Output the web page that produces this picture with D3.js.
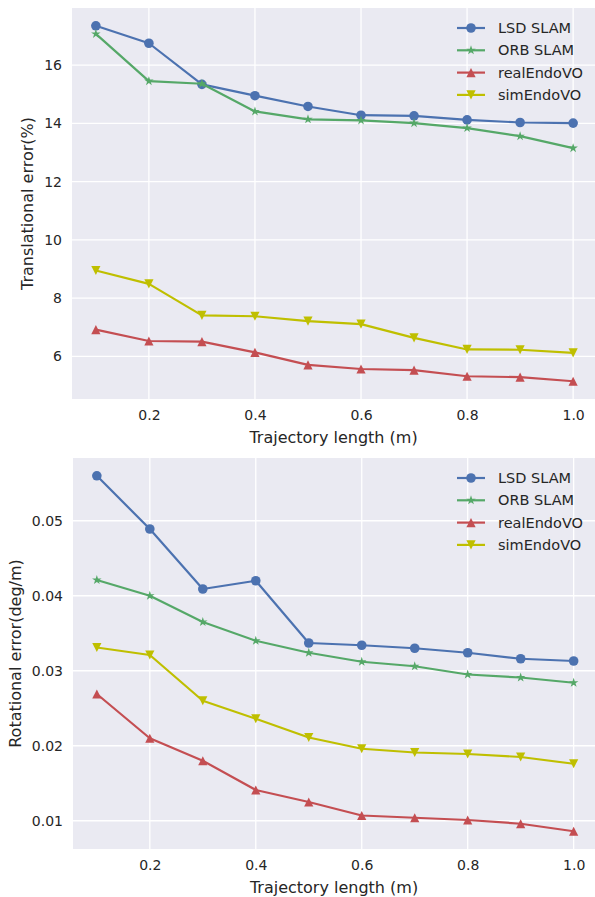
<!DOCTYPE html>
<html>
<head>
<meta charset="utf-8">
<script src="https://cdn.jsdelivr.net/npm/d3@7"></script>
<style>
  html, body { margin: 0; padding: 0; background: #ffffff; }
  svg { display: block; }
  text { font-family: "DejaVu Sans", sans-serif; fill: #262626; }
</style>
</head>
<body>
<svg id="chart" width="595" height="897"></svg>
<script>
// ---- data ----
const trajectoryLength = [0.1, 0.2, 0.3, 0.4, 0.5, 0.6, 0.7, 0.8, 0.9, 1.0];
const seriesNames = ["LSD SLAM", "ORB SLAM", "realEndoVO", "simEndoVO"];

const transLSD  = [17.35, 16.75, 15.34, 14.95, 14.58, 14.28, 14.26, 14.12, 14.03, 14.01];
const transORB  = [17.07, 15.45, 15.36, 14.41, 14.14, 14.10, 14.01, 13.84, 13.56, 13.15];
const transReal = [6.92, 6.53, 6.51, 6.14, 5.71, 5.57, 5.53, 5.32, 5.29, 5.15];
const transSim  = [8.95, 8.49, 7.41, 7.38, 7.21, 7.11, 6.64, 6.24, 6.23, 6.12];

const rotLSD  = [0.0560, 0.0489, 0.0409, 0.0420, 0.0337, 0.0334, 0.0330, 0.0324, 0.0316, 0.0313];
const rotORB  = [0.0421, 0.0400, 0.0365, 0.0340, 0.0324, 0.0312, 0.0306, 0.0295, 0.0291, 0.0284];
const rotReal = [0.0269, 0.0210, 0.0180, 0.0141, 0.0125, 0.0107, 0.0104, 0.0101, 0.0096, 0.0086];
const rotSim  = [0.0331, 0.0321, 0.0260, 0.0236, 0.0211, 0.0196, 0.0191, 0.0189, 0.0185, 0.0176];

const xTicks = [0.2, 0.4, 0.6, 0.8, 1.0];
const transTicks = [6, 8, 10, 12, 14, 16];
const rotTicks = [0.01, 0.02, 0.03, 0.04, 0.05];

const xLabel = "Trajectory length (m)";
const transLabel = "Translational error(%)";
const rotLabel = "Rotational error(deg/m)";

// ---- styles ----
const colors = ["#4C72B0", "#55A868", "#C44E52", "#BFBF00"];
const markers = ["circle", "star", "tri-up", "tri-down"];

function markerPath(type, s) {
  if (type === "circle") {
    return d3.arc()({innerRadius: 0, outerRadius: s, startAngle: 0, endAngle: 2 * Math.PI});
  }
  if (type === "star") {
    const pts = [];
    const inner = s * 0.381966;
    for (let i = 0; i < 10; i++) {
      const r = i % 2 === 0 ? s : inner;
      const a = -Math.PI / 2 + i * Math.PI / 5;
      pts.push([r * Math.cos(a), r * Math.sin(a)]);
    }
    return "M" + pts.map(p => p[0].toFixed(2) + "," + p[1].toFixed(2)).join("L") + "Z";
  }
  if (type === "tri-up") {
    return `M0,${-s}L${-s},${s}L${s},${s}Z`;
  }
  return `M0,${s}L${-s},${-s}L${s},${-s}Z`;
}
const markerSize = {circle: 4.8, star: 5.0, "tri-up": 4.6, "tri-down": 4.6};

const svg = d3.select("#chart");

function drawPanel(cfg) {
  const g = svg.append("g");
  const x = d3.scaleLinear()
    .domain([0.1 - 0.045, 1.0 + 0.045])
    .range([cfg.left, cfg.right]);
  const all = cfg.series.flat();
  const lo = d3.min(all), hi = d3.max(all), pad = (hi - lo) * 0.05;
  const y = d3.scaleLinear()
    .domain([lo - pad, hi + pad])
    .range([cfg.bottom, cfg.top]);

  g.append("rect")
    .attr("x", cfg.left).attr("y", cfg.top)
    .attr("width", cfg.right - cfg.left).attr("height", cfg.bottom - cfg.top)
    .attr("fill", "#EAEAF2");

  // grid
  g.selectAll(".vg").data(xTicks).enter().append("line")
    .attr("x1", d => x(d)).attr("x2", d => x(d))
    .attr("y1", cfg.top).attr("y2", cfg.bottom)
    .attr("stroke", "#ffffff").attr("stroke-width", 1.3);
  g.selectAll(".hg").data(cfg.yTicks).enter().append("line")
    .attr("x1", cfg.left).attr("x2", cfg.right)
    .attr("y1", d => y(d)).attr("y2", d => y(d))
    .attr("stroke", "#ffffff").attr("stroke-width", 1.3);

  // axes using d3 axis generators (no domain / tick lines)
  const xAxis = g.append("g")
    .attr("transform", `translate(0,${cfg.bottom})`)
    .call(d3.axisBottom(x).tickValues(xTicks).tickFormat(d3.format(".1f")).tickSize(0).tickPadding(11));
  xAxis.select(".domain").remove();
  xAxis.selectAll("text").attr("font-size", 14).attr("fill", "#262626")
    .attr("font-family", "DejaVu Sans");

  const yAxis = g.append("g")
    .attr("transform", `translate(${cfg.left},0)`)
    .call(d3.axisLeft(y).tickValues(cfg.yTicks).tickFormat(cfg.yFormat).tickSize(0).tickPadding(10));
  yAxis.select(".domain").remove();
  yAxis.selectAll("text").attr("font-size", 14).attr("fill", "#262626")
    .attr("font-family", "DejaVu Sans");

  // labels
  g.append("text")
    .attr("x", (cfg.left + 595) / 2).attr("y", cfg.xLabelY)
    .attr("text-anchor", "middle").attr("font-size", 16)
    .text(xLabel);
  g.append("text")
    .attr("transform", `translate(${cfg.yLabelX},${(cfg.top + cfg.bottom) / 2}) rotate(-90)`)
    .attr("text-anchor", "middle").attr("dominant-baseline", "central").attr("font-size", 16)
    .text(cfg.yLabel);

  // lines + markers
  const line = d3.line().x((d, i) => x(trajectoryLength[i])).y(d => y(d));
  cfg.series.forEach((vals, si) => {
    g.append("path")
      .attr("d", line(vals))
      .attr("fill", "none").attr("stroke", colors[si])
      .attr("stroke-width", 2.2).attr("stroke-linejoin", "round");
    g.selectAll(".m" + si).data(vals).enter().append("path")
      .attr("d", markerPath(markers[si], markerSize[markers[si]]))
      .attr("transform", (d, i) => `translate(${x(trajectoryLength[i])},${y(d)})`)
      .attr("fill", colors[si]);
  });

  // legend
  const leg = g.append("g");
  seriesNames.forEach((name, si) => {
    const ly = cfg.legendTop + si * 22.3;
    leg.append("line")
      .attr("x1", 457).attr("x2", 485).attr("y1", ly).attr("y2", ly)
      .attr("stroke", colors[si]).attr("stroke-width", 2.2);
    leg.append("path")
      .attr("d", markerPath(markers[si], markerSize[markers[si]]))
      .attr("transform", `translate(471,${ly})`)
      .attr("fill", colors[si]);
    leg.append("text")
      .attr("x", 498).attr("y", ly)
      .attr("dominant-baseline", "central")
      .attr("font-size", 14.5)
      .text(name);
  });
}

drawPanel({
  left: 72, right: 597, top: 8, bottom: 399,
  series: [transLSD, transORB, transReal, transSim],
  yTicks: transTicks, yFormat: d3.format("d"),
  yLabel: transLabel, yLabelX: 27, xLabelY: 443, legendTop: 28
});
drawPanel({
  left: 73, right: 597.5, top: 458, bottom: 849,
  series: [rotLSD, rotORB, rotReal, rotSim],
  yTicks: rotTicks, yFormat: d3.format(".2f"),
  yLabel: rotLabel, yLabelX: 15, xLabelY: 893, legendTop: 478
});
</script>
</body>
</html>
